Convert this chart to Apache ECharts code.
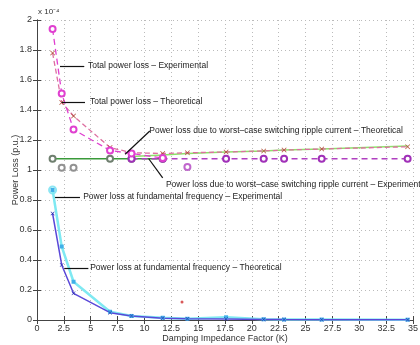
<!DOCTYPE html>
<html>
<head>
<meta charset="utf-8">
<script src="https://cdn.jsdelivr.net/npm/echarts@6/dist/echarts.min.js"></script>
<style>
  html, body { margin: 0; padding: 0; background: #fff; }
  #lossChart { width: 420px; height: 345px; }
</style>
</head>
<body>
<div id="lossChart"></div>
<script>
// damping factor K for the measured points
const K = [1.45, 2.3, 3.4, 6.8, 8.8, 11.7, 14.0, 17.6, 21.1, 23.0, 26.5, 34.5]

// values in units of 1e-4 p.u.
const totalExp = [1.94, 1.51, 1.27, 1.13, 1.11, 1.08, 1.075, 1.075, 1.075, 1.075, 1.075, 1.075]
const totalTheo = [1.78, 1.45, 1.36, 1.15, 1.115, 1.11, 1.115, 1.12, 1.127, 1.133, 1.14, 1.155]
const rippleTheoK = [8.8, 11.7, 14.0, 17.6, 21.1, 23.0, 26.5, 34.5]
const rippleTheo = [1.09, 1.1, 1.11, 1.12, 1.127, 1.133, 1.14, 1.16]
const rippleExpK = [1.45, 6.8, 8.8, 11.7]
const rippleExp = [1.075, 1.075, 1.075, 1.075]
const rippleTailK = [8.8, 11.7, 17.6, 21.1, 23.0, 26.5, 34.5]
const rippleTail = [1.075, 1.075, 1.075, 1.075, 1.075, 1.075, 1.075]
const fundExp = [0.867, 0.49, 0.255, 0.055, 0.027, 0.015, 0.008, 0.018, 0.005, 0.003, 0.003, 0.002]
const fundTheo = [0.71, 0.367, 0.178, 0.049, 0.027, 0.012, 0.008, 0.006, 0.004, 0.003, 0.002, 0.001]
const outlierGray = [[2.3, 1.015], [3.4, 1.015]]
const outlierPurple = [[14.0, 1.02]]
const outlierRed = [[13.5, 0.12]]

// annotation: [text, textK, textP, tailK, tailP, tipK, tipP]
const notes = [
  ['Total power loss \u2013 Experimental', 4.75, 1.697, 4.4, 1.695, 2.14, 1.695],
  ['Total power loss \u2013 Theoretical', 4.93, 1.453, 4.47, 1.453, 2.3, 1.453],
  ['Power loss due to worst\u2013case switching ripple current \u2013 Theoretical', 10.45, 1.262, 10.5, 1.26, 8.2, 1.105],
  ['Power loss due to worst\u2013case switching ripple current \u2013 Experimental', 12.0, 0.905, 11.7, 0.947, 10.4, 1.075],
  ['Power loss at fundamental frequency \u2013 Experimental', 4.3, 0.82, 4.0, 0.82, 1.68, 0.82],
  ['Power loss at fundamental frequency \u2013 Theoretical', 4.95, 0.347, 4.78, 0.347, 2.54, 0.347]
]

const xTicks = [0, 2.5, 5, 7.5, 10, 12.5, 15, 17.5, 20, 22.5, 25, 27.5, 30, 32.5, 35]

const cross = 'path://M0,1L1,0L5,4L9,0L10,1L6,5L10,9L9,10L5,6L1,10L0,9L4,5Z'
const pair = (xs, ys) => xs.map((x, i) => [x, ys[i]])
const font = 'Liberation Sans, Arial, sans-serif'

let myChart = echarts.init(document.getElementById('lossChart'))

let axisCommon = {
  type: 'value',
  axisLine: {show: true, lineStyle: {color: '#444', width: 1}},
  axisTick: {show: true, inside: true, length: 4, lineStyle: {color: '#444'}},
  axisLabel: {color: '#333', fontSize: 9, fontFamily: font},
  splitLine: {show: true, lineStyle: {color: '#bbb', type: [1, 3], width: 1}}
}

myChart.setOption({
  animation: false,
  grid: {left: 37, right: 7, top: 20, bottom: 25, containLabel: false, outerBoundsMode: 'none'},
  xAxis: [
    Object.assign({}, axisCommon, {
      min: 0, max: 35, interval: 2.5,
      name: 'Damping Impedance Factor (K)',
      nameLocation: 'middle', nameGap: 14, nameMoveOverlap: false,
      nameTextStyle: {color: '#333', fontSize: 9, fontFamily: font},
      axisLabel: {color: '#333', fontSize: 9, fontFamily: font, margin: 4,
        formatter: v => xTicks.indexOf(v) >= 0 ? String(v) : ''}
    }),
    Object.assign({}, axisCommon, {
      min: 0, max: 35, interval: 2.5, position: 'top',
      axisLabel: {show: false}, splitLine: {show: false}
    })
  ],
  yAxis: [
    Object.assign({}, axisCommon, {
      min: 0, max: 2, interval: 0.2,
      name: 'Power Loss (p.u.)',
      nameLocation: 'middle', nameGap: 17, nameRotate: 90, nameMoveOverlap: false,
      nameTextStyle: {color: '#333', fontSize: 9, fontFamily: font},
      axisLabel: {color: '#333', fontSize: 9, fontFamily: font, margin: 5,
        formatter: v => String(Math.round(v * 10) / 10)}
    }),
    Object.assign({}, axisCommon, {
      min: 0, max: 2, interval: 0.2, position: 'right',
      axisLabel: {show: false}, splitLine: {show: false}
    })
  ],
  graphic: [
    {type: 'text', left: 38, top: 8,
      style: {text: 'x 10\u207B\u2074', fill: '#333', font: '8px ' + font}}
  ],
  series: [
    {
      name: 'Ripple exp', type: 'line', data: pair(rippleExpK, rippleExp),
      lineStyle: {color: '#3a9a3a', width: 1.5},
      symbol: 'emptyCircle', symbolSize: 6,
      itemStyle: {color: '#6f7f6f', borderWidth: 1.1}
    },
    {
      name: 'Ripple theo', type: 'line', data: pair(rippleTheoK, rippleTheo),
      lineStyle: {color: '#8ee06a', width: 1.5},
      symbol: 'none'
    },
    {
      name: 'Total theo', type: 'line', data: pair(K, totalTheo),
      lineStyle: {color: '#dd6fa0', width: 1.3, type: [5, 3]},
      symbol: cross, symbolSize: 5,
      itemStyle: {color: '#b0503a'}
    },
    {
      name: 'Ripple tail', type: 'line', data: pair(rippleTailK, rippleTail),
      lineStyle: {color: '#b040c0', width: 1.3, type: [6, 4]},
      symbol: 'emptyCircle', symbolSize: 6,
      itemStyle: {color: '#a030b8', borderWidth: 1.2}
    },
    {
      name: 'Total exp', type: 'line', data: pair(K.slice(0, 6), totalExp.slice(0, 6)),
      lineStyle: {color: '#e040d0', width: 1.3, type: [6, 4]},
      symbol: 'emptyCircle', symbolSize: 6,
      itemStyle: {color: '#e040d0', borderWidth: 1.2}
    },
    {
      name: 'Fund exp', type: 'line', data: pair(K, fundExp),
      lineStyle: {color: '#7fe9f2', width: 2.5},
      symbol: 'rect', symbolSize: 4,
      itemStyle: {color: '#40b0e8'}
    },
    {
      name: 'Fund theo', type: 'line', data: pair(K, fundTheo),
      lineStyle: {color: '#5a48d8', width: 1.5},
      symbol: cross, symbolSize: 4,
      itemStyle: {color: '#2a30b0'}
    },
    {
      name: 'Fund exp start', type: 'scatter', data: [[K[0], fundExp[0]]],
      symbol: 'emptyCircle', symbolSize: 7,
      itemStyle: {color: '#70e0f0', borderWidth: 1.3}
    },
    {
      name: 'Gray pts', type: 'scatter', data: outlierGray,
      symbol: 'emptyCircle', symbolSize: 6,
      itemStyle: {color: '#777', borderWidth: 1.1}
    },
    {
      name: 'Purple pt', type: 'scatter', data: outlierPurple,
      symbol: 'emptyCircle', symbolSize: 6,
      itemStyle: {color: '#b040c0', borderWidth: 1.2}
    },
    {
      name: 'Red pt', type: 'scatter', data: outlierRed,
      symbol: 'circle', symbolSize: 3,
      itemStyle: {color: '#d03030'}
    },
    {
      name: 'Notes', type: 'line', data: [],
      markLine: {
        silent: true, animation: false,
        symbol: ['none', 'arrow'], symbolSize: [0, 6],
        lineStyle: {color: '#111', width: 1.2, type: 'solid'},
        label: {show: false},
        data: notes.map(n => [{coord: [n[3], n[4]]}, {coord: [n[5], n[6]]}])
      },
      markPoint: {
        silent: true, animation: false,
        symbol: 'circle', symbolSize: 0,
        label: {show: true, position: 'right', distance: 0, color: '#222',
          fontSize: 8.5, fontFamily: font, formatter: p => p.name},
        data: notes.map(n => ({name: n[0], coord: [n[1], n[2]]}))
      }
    }
  ]
})
</script>
</body>
</html>
